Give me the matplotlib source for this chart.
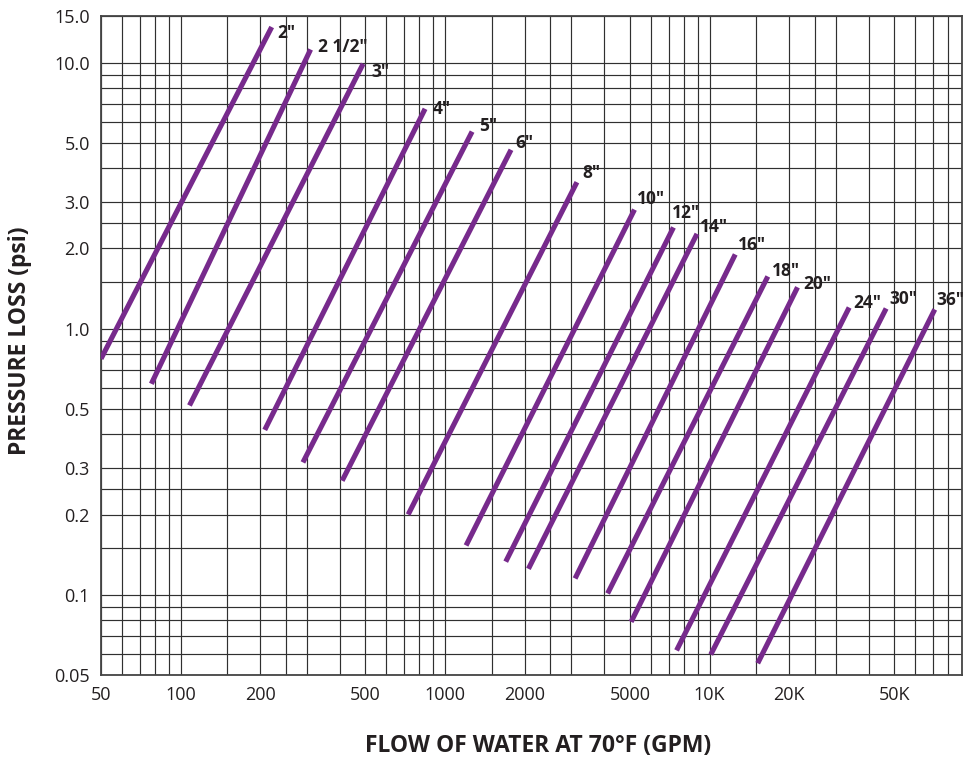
import matplotlib
matplotlib.use("Agg")
import matplotlib.pyplot as plt
from matplotlib.ticker import FixedLocator, NullFormatter

plt.rcParams['font.family'] = ['Open Sans', 'DejaVu Sans']

# ---- data ----
sizes = ['2"', '2 1/2"', '3"', '4"', '5"', '6"', '8"', '10"', '12"', '14"',
         '16"', '18"', '20"', '24"', '30"', '36"']
flow_low = [50, 77.5, 108, 208, 290, 408, 725, 1200, 1695, 2065,
            3100, 4115, 5050, 7500, 10100, 15200]
flow_high = [221, 310, 490, 840, 1265, 1775, 3150, 5200, 7300, 8960,
             12500, 16600, 21500, 33700, 46500, 71000]
loss_low = [0.77, 0.62, 0.514, 0.416, 0.314, 0.268, 0.200, 0.153, 0.133, 0.125,
            0.115, 0.101, 0.079, 0.0617, 0.0595, 0.0552]
loss_high = [13.6, 11.2, 9.9, 6.7, 5.5, 4.7, 3.55, 2.8, 2.4, 2.27,
             1.9, 1.57, 1.43, 1.2, 1.19, 1.18]
# label offsets in pixels relative to the top end of each line
label_dx = [6, 7, 8, 8, 7, 4, 5, 2, -2, 3, 3, 4, 6, 4, 3, 2]
label_dy = [-6, 2, -8, 0, 6, 7, 9, 11, 14, 7, 9, 5, 3, 5, 9, 9]

x_ticks = [50, 100, 200, 500, 1000, 2000, 5000, 10000, 20000, 50000]
x_ticklabels = ['50', '100', '200', '500', '1000', '2000', '5000', '10K', '20K', '50K']
y_ticks = [0.05, 0.1, 0.2, 0.3, 0.5, 1.0, 2.0, 3.0, 5.0, 10.0, 15.0]
y_ticklabels = ['0.05', '0.1', '0.2', '0.3', '0.5', '1.0', '2.0', '3.0', '5.0', '10.0', '15.0']

grid_mult = [1, 1.5, 2, 2.5, 3, 4, 5, 6, 7, 8, 9]

XMIN, XMAX = 50, 90000
YMIN, YMAX = 0.05, 15

fig = plt.figure(figsize=(9.64, 7.60), dpi=100)
ax = fig.add_axes([101 / 964, 85.3 / 760, 861 / 964, 659 / 760])
ax.set_xscale('log')
ax.set_yscale('log')
ax.set_xlim(XMIN, XMAX)
ax.set_ylim(YMIN, YMAX)

xgrid = [m * d for d in (10, 100, 1000, 10000) for m in grid_mult if XMIN <= m * d <= XMAX]
ygrid = [m * d for d in (0.01, 0.1, 1, 10) for m in grid_mult if YMIN <= m * d <= YMAX]
ax.xaxis.set_major_locator(FixedLocator(x_ticks))
ax.xaxis.set_minor_locator(FixedLocator(xgrid))
ax.yaxis.set_major_locator(FixedLocator(y_ticks))
ax.yaxis.set_minor_locator(FixedLocator(ygrid))
ax.xaxis.set_minor_formatter(NullFormatter())
ax.yaxis.set_minor_formatter(NullFormatter())
ax.set_xticklabels(x_ticklabels)
ax.set_yticklabels(y_ticklabels)
ax.tick_params(which='both', length=0, colors='#231f20', labelsize=13)
ax.tick_params(axis='x', pad=8)
ax.tick_params(axis='y', pad=8)
ax.grid(True, which='both', color='#303030', linewidth=0.85)
ax.set_axisbelow(True)
for s in ax.spines.values():
    s.set_color('#444444')
    s.set_linewidth(1.3)

purple = '#772A8C'
for i, name in enumerate(sizes):
    ax.plot([flow_low[i], flow_high[i]], [loss_low[i], loss_high[i]],
            color=purple, linewidth=3.7, solid_capstyle='butt', zorder=3)
    ax.annotate(name, (flow_high[i], loss_high[i]),
                xytext=(label_dx[i], label_dy[i]), textcoords='offset pixels',
                ha='left', va='center', fontsize=12.5, fontweight='bold',
                color='#231f20', annotation_clip=False, zorder=4)

fig.text(538 / 964, 1 - 746 / 760, 'FLOW OF WATER AT 70°F (GPM)', ha='center', va='center',
         fontsize=16.5, fontweight='bold', color='#231f20')
fig.text(20 / 964, 1 - 341 / 760, 'PRESSURE LOSS (psi)', ha='center', va='center',
         rotation=90, fontsize=16.5, fontweight='bold', color='#231f20')

fig.savefig('out.png', dpi=100, facecolor='white')
